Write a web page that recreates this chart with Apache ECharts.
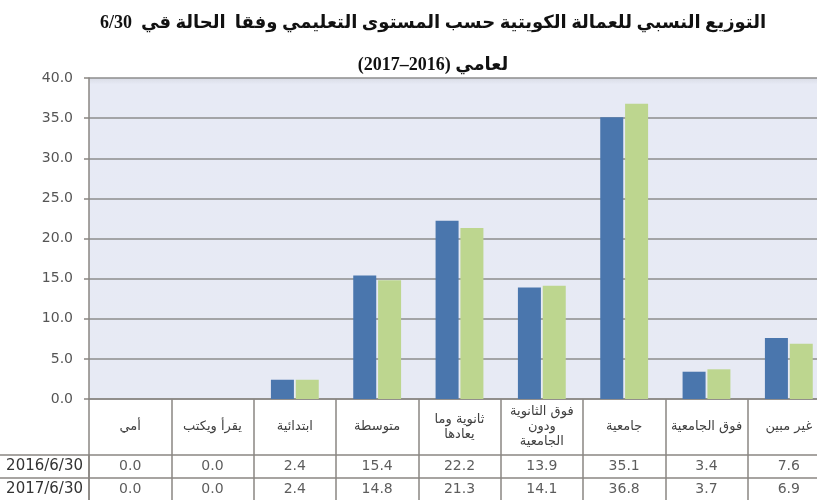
<!DOCTYPE html>
<html>
<head>
<meta charset="utf-8">
<script src="https://cdn.jsdelivr.net/npm/echarts@6/dist/echarts.min.js"></script>
<style>
    html,body{margin:0;padding:0;background:#fff;}
    #chart{width:817px;height:500px;}
</style>
</head>
<body>
<div id="chart"></div>
<script>
// 数据
var categories=['أمي','يقرأ ويكتب','ابتدائية','متوسطة','ثانوية وما\nيعادها','فوق الثانوية\nودون\nالجامعية','جامعية','فوق الجامعية','غير مبين'];
var rowLabels=['2016/6/30','2017/6/30'];
var values2016=[0.0,0.0,2.4,15.4,22.2,13.9,35.1,3.4,7.6];
var values2017=[0.0,0.0,2.4,14.8,21.3,14.1,36.8,3.7,6.9];
var yTicks=[0,5,10,15,20,25,30,35,40];

var RLE='\u202B',PDF='\u202C';
var lineColor='#8a8682';

// 表格单元格
var tableCells=[];
[values2016,values2017].forEach(function (row,r) {
    row.forEach(function (v,i) {
        tableCells.push([i,r,v]);
    });
});

var chart=echarts.init(document.getElementById('chart'));
var option={
    animation:false,
    backgroundColor:'#fff',
    title:{
        text:RLE+'التوزيع النسبي للعمالة الكويتية حسب المستوى التعليمي وفقا  الحالة قي  6/30'+PDF+'\n'+RLE+'لعامي (2016–2017)'+PDF,
        left:428,
        top:-3,
        textAlign:'center',
        textStyle:{
            fontFamily:'"Liberation Serif","DejaVu Sans",serif',
            fontSize:18,
            fontWeight:'bold',
            color:'#111',
            lineHeight:42
        }
    },
    grid:[{
        left:89,
        width:741,
        top:78,
        height:321,
        outerBoundsMode:'none',
        show:true,
        borderWidth:0,
        backgroundColor:{
            type:'linear',x:0,y:0,x2:0,y2:1,
            colorStops:[{offset:0,color:'#d9dce6'},{offset:0.02,color:'#e7eaf5'},{offset:1,color:'#e7eaf4'}]
        }
    },{
        left:89,
        width:741,
        top:455,
        height:46,
        outerBoundsMode:'none'
    }],
    xAxis:[{
        gridIndex:0,
        type:'category',
        data:categories,
        axisLine:{lineStyle:{color:lineColor,width:1.5}},
        axisTick:{show:true,length:56,interval:0,lineStyle:{color:lineColor,width:1.5}},
        axisLabel:{
            interval:0,
            margin:28,
            verticalAlign:'middle',
            color:'#404040',
            fontSize:13,
            lineHeight:15,
            fontFamily:'"DejaVu Sans",sans-serif',
            formatter:function (v) {
                return v.split('\n').map(function (s) { return RLE+s+PDF; }).join('\n');
            }
        }
    },{
        gridIndex:1,
        type:'category',
        data:categories,
        axisLine:{show:false},
        axisTick:{show:false},
        axisLabel:{show:false},
        splitLine:{show:true,interval:0,lineStyle:{color:lineColor,width:1.5}}
    }],
    yAxis:[{
        gridIndex:0,
        type:'value',
        min:yTicks[0],
        max:yTicks[yTicks.length-1],
        interval:yTicks[1]-yTicks[0],
        axisLine:{show:true,lineStyle:{color:lineColor,width:1.5}},
        axisTick:{show:true,length:5,lineStyle:{color:lineColor,width:1.5}},
        axisLabel:{
            color:'#555',
            fontSize:14,
            margin:16,
            fontFamily:'"DejaVu Sans",sans-serif',
            formatter:function (v) { return v.toFixed(1); }
        },
        splitLine:{lineStyle:{color:'#8c8c8c',width:1.5}}
    },{
        gridIndex:1,
        type:'category',
        inverse:true,
        data:rowLabels,
        axisLine:{show:true,lineStyle:{color:lineColor,width:1.5}},
        axisTick:{show:true,length:89,interval:0,lineStyle:{color:lineColor,width:1.5}},
        axisLabel:{
            color:'#333',
            fontSize:15,
            margin:6,
            fontFamily:'"DejaVu Sans",sans-serif'
        },
        splitLine:{show:true,interval:0,lineStyle:{color:lineColor,width:1.5}}
    }],
    series:[{
        name:rowLabels[0],
        type:'bar',
        xAxisIndex:0,
        yAxisIndex:0,
        data:values2016,
        barWidth:23,
        barGap:'8%',
        itemStyle:{color:'#4a76ad'}
    },{
        name:rowLabels[1],
        type:'bar',
        xAxisIndex:0,
        yAxisIndex:0,
        data:values2017,
        barWidth:23,
        barGap:'8%',
        itemStyle:{color:'#bdd68f'}
    },{
        type:'scatter',
        xAxisIndex:1,
        yAxisIndex:1,
        data:tableCells,
        symbolSize:0,
        label:{
            show:true,
            position:'inside',
            color:'#333',
            fontSize:14,
            fontFamily:'"DejaVu Sans",sans-serif',
            formatter:function (p) { return p.value[2].toFixed(1); }
        }
    }]
};
chart.setOption(option);
</script>
</body>
</html>
